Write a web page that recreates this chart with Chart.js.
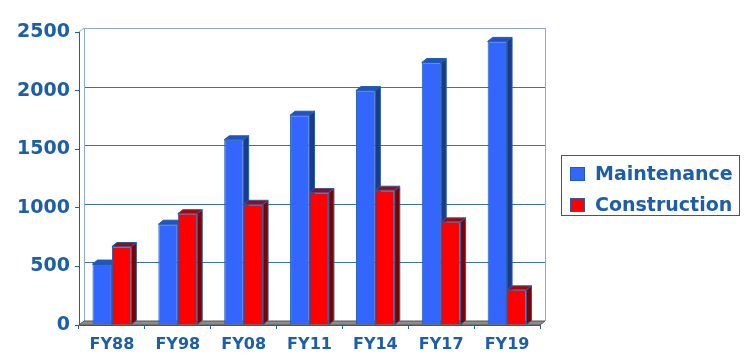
<!DOCTYPE html>
<html>
<head>
<meta charset="utf-8">
<script src="https://cdn.jsdelivr.net/npm/chart.js@4.4.1/dist/chart.umd.min.js"></script>
<style>
    body { margin: 0; background: #fff; }
    #wrap { position: relative; width: 750px; height: 354px; }
    #legend {
        position: absolute; left: 561px; top: 155px; width: 177px; height: 59px;
        border: 1px solid #1f5fa8; font: bold 19px "DejaVu Sans", sans-serif; color: #1d5ea8;
    }
    .item { position: absolute; left: 8px; height: 24px; line-height: 24px; white-space: nowrap; }
    .swatch { display: inline-block; width: 13px; height: 12px; border: 1px solid #1f5fa8; margin-right: 10px; vertical-align: -1px; }
</style>
</head>
<body>
<div id="wrap">
    <canvas id="chart" width="750" height="354"></canvas>
    <div id="legend"></div>
</div>
<script>
const categories = ['FY88', 'FY98', 'FY08', 'FY11', 'FY14', 'FY17', 'FY19'];
const maintenance = [520, 860, 1580, 1790, 2000, 2240, 2420];
const construction = [670, 950, 1030, 1130, 1150, 880, 300];
const seriesNames = ['Maintenance', 'Construction'];

const textColor = '#1d5ea8';
const axisColor = '#1f5fa8';
const DX = 5, DY = -4; // fake 3D depth

const faces = [
    { front: '#3366ff', side: '#1c3a8c', top: '#2450c8' },
    { front: '#ff0000', side: '#800000', top: '#b30000' }
];

// back wall, floor, and the side/top faces of every bar
const threeD = {
    id: 'threeD',
    beforeDatasetsDraw(chart) {
        const { ctx, chartArea: a, scales: { y } } = chart;
        ctx.save();
        ctx.lineWidth = 1;

        // back wall gridlines
        y.ticks.forEach(t => {
            const py = Math.round(y.getPixelForValue(t.value) + DY) + 0.5;
            if (t.value === 0) return;
            ctx.strokeStyle = t.value === 2500 ? '#8eaad8' : '#3a6fb5';
            ctx.beginPath();
            ctx.moveTo(a.left + DX, py);
            ctx.lineTo(a.right + DX, py);
            ctx.stroke();
        });
        ctx.strokeStyle = '#8eaad8';
        ctx.beginPath();
        ctx.moveTo(a.left + DX + 0.5, a.top + DY);
        ctx.lineTo(a.left + DX + 0.5, a.bottom + DY);
        ctx.moveTo(a.right + DX + 0.5, a.top + DY);
        ctx.lineTo(a.right + DX + 0.5, a.bottom + DY);
        ctx.moveTo(a.left, a.top);
        ctx.lineTo(a.left + DX, a.top + DY);
        ctx.stroke();

        // floor
        ctx.fillStyle = '#8c8c8c';
        ctx.strokeStyle = '#555';
        ctx.beginPath();
        ctx.moveTo(a.left, a.bottom);
        ctx.lineTo(a.right, a.bottom);
        ctx.lineTo(a.right + DX, a.bottom + DY);
        ctx.lineTo(a.left + DX, a.bottom + DY);
        ctx.closePath();
        ctx.fill();
        ctx.stroke();

        // side and top faces, fronts get drawn by Chart.js on top
        for (let i = 0; i < categories.length; i++) {
            chart.data.datasets.forEach((ds, di) => {
                const bar = chart.getDatasetMeta(di).data[i];
                const l = bar.x - bar.width / 2, r = bar.x + bar.width / 2;
                const top = bar.y, base = bar.base;
                ctx.strokeStyle = axisColor;
                ctx.fillStyle = faces[di].side;
                ctx.beginPath();
                ctx.moveTo(r, top);
                ctx.lineTo(r + DX, top + DY);
                ctx.lineTo(r + DX, base + DY);
                ctx.lineTo(r, base);
                ctx.closePath();
                ctx.fill();
                ctx.stroke();
                ctx.fillStyle = faces[di].top;
                ctx.beginPath();
                ctx.moveTo(l, top);
                ctx.lineTo(l + DX, top + DY);
                ctx.lineTo(r + DX, top + DY);
                ctx.lineTo(r, top);
                ctx.closePath();
                ctx.fill();
                ctx.stroke();
            });
        }
        ctx.restore();
    }
};

new Chart(document.getElementById('chart'), {
    type: 'bar',
    data: {
        labels: categories,
        datasets: [
            { label: seriesNames[0], data: maintenance, backgroundColor: faces[0].front, borderColor: axisColor, borderWidth: 1 },
            { label: seriesNames[1], data: construction, backgroundColor: faces[1].front, borderColor: axisColor, borderWidth: 1 }
        ]
    },
    options: {
        responsive: false,
        animation: false,
        categoryPercentage: 0.59,
        barPercentage: 1,
        layout: { padding: { top: 32, right: 210, left: 0, bottom: 0 } },
        plugins: { legend: { display: false }, tooltip: { enabled: false } },
        scales: {
            x: {
                afterFit: s => { s.height = 29; },
                grid: { drawOnChartArea: false, color: axisColor, tickLength: 4, offset: true },
                border: { color: axisColor },
                ticks: { color: textColor, padding: 6, font: { family: 'DejaVu Sans', size: 16, weight: 'bold' } }
            },
            y: {
                min: 0, max: 2500,
                afterFit: s => { s.width = 79; },
                grid: { drawOnChartArea: false, color: axisColor, tickLength: 4 },
                border: { color: axisColor },
                ticks: {
                    stepSize: 500, color: textColor, padding: 5,
                    font: { family: 'DejaVu Sans', size: 19, weight: 'bold' },
                    callback: v => String(v)
                }
            }
        }
    },
    plugins: [threeD]
});

const legend = document.getElementById('legend');
legend.innerHTML = seriesNames.map((name, i) => `
    <div class="item" style="top:${5 + i * 31}px"><span class="swatch" style="background:${faces[i].front}"></span>${name}</div>
`).join('');
</script>
</body>
</html>
